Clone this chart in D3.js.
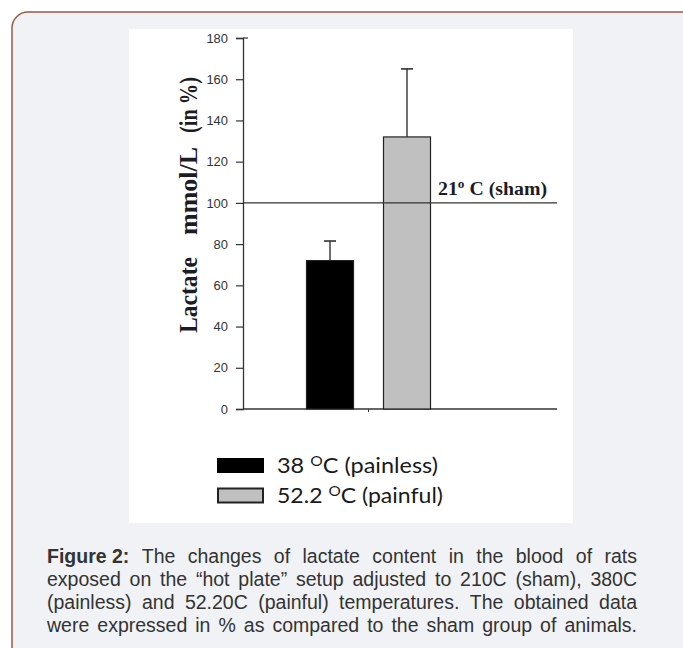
<!DOCTYPE html>
<html lang="en">
<head>
    <meta charset="UTF-8">
    <title>Lactate content – Figure 2</title>
    <script src="https://cdnjs.cloudflare.com/ajax/libs/d3/7.8.5/d3.min.js"></script>
    <style>
        body { margin: 0; background: #fff; }
        svg { display: block; }
        .tick-label { font-family: "Liberation Sans Narrow", "Liberation Sans", Arial, sans-serif; font-size: 13px; fill: #333; }
        .serif-bold { font-family: "Liberation Serif", "Times New Roman", serif; font-weight: bold; fill: #1c1c24; }
        .legend-text { font-family: Lato, "Open Sans", sans-serif; font-size: 21px; fill: #1a1a1a; }
        .caption { font-family: "Liberation Sans", Arial, sans-serif; font-size: 19.5px; fill: #333; }
    </style>
</head>
<body>
<div id="chart"></div>
<script>
    // Data
    const groups = ["38", "52.2"];
    const groupLabels = ["(painless)", "(painful)"];
    const lactate = [72, 132];          // % of sham
    const lactateErr = [9.5, 33];       // upper error bar
    const barFills = ["#000000", "#c0c0c0"];
    const yTicks = [0, 20, 40, 60, 80, 100, 120, 140, 160, 180];
    const shamLevel = 100;
    const captionLines = [
        ["Figure 2:", "The changes of lactate content in the blood of rats"],
        ["", "exposed on the \u201chot plate\u201d setup adjusted to 210C (sham), 380C"],
        ["", "(painless) and 52.20C (painful) temperatures. The obtained data"],
        ["", "were expressed in % as compared to the sham group of animals."]
    ];

    const W = 683, H = 648;
    const svg = d3.select("#chart").append("svg")
        .attr("width", W)
        .attr("height", H);

    // card + white figure area
    svg.append("rect")
        .attr("x", 12).attr("y", 12)
        .attr("width", 700).attr("height", 650)
        .attr("rx", 16)
        .attr("fill", "#f0f2f5")
        .attr("stroke", "#9a5a48")
        .attr("stroke-width", 1.5);

    svg.append("rect")
        .attr("x", 129).attr("y", 29)
        .attr("width", 444).attr("height", 494)
        .attr("fill", "#fff");

    // scales
    const axisX0 = 243, axisX1 = 557;
    const y = d3.scaleLinear().domain([0, 180]).range([409, 38]);
    const x = d3.scalePoint().domain(groups).range([330, 407]);
    const barW = 47;

    // y axis
    const yAxis = svg.append("g")
        .attr("transform", `translate(${axisX0},0)`)
        .call(d3.axisLeft(y).tickValues(yTicks).tickSize(7).tickPadding(8));
    yAxis.attr("font-size", null).attr("font-family", null);
    yAxis.select(".domain").attr("stroke", "#333").attr("stroke-width", 1.3);
    yAxis.selectAll(".tick line").attr("stroke", "#333").attr("stroke-width", 1.2);
    yAxis.selectAll(".tick text").attr("class", "tick-label").attr("fill", null)
        .attr("textLength", d => String(d).length * 7.2)
        .attr("lengthAdjust", "spacingAndGlyphs");
    // top tick extends past the axis
    yAxis.append("line")
        .attr("x1", 0).attr("x2", 5)
        .attr("y1", y(180)).attr("y2", y(180))
        .attr("stroke", "#333").attr("stroke-width", 1.2);

    // x axis line + middle tick
    svg.append("line")
        .attr("x1", axisX0).attr("x2", axisX1)
        .attr("y1", y(0)).attr("y2", y(0))
        .attr("stroke", "#333").attr("stroke-width", 1.3);
    const midX = (x(groups[0]) + x(groups[1])) / 2;
    svg.append("line")
        .attr("x1", midX).attr("x2", midX)
        .attr("y1", y(0)).attr("y2", y(0) + 3)
        .attr("stroke", "#333").attr("stroke-width", 1);

    // bars
    svg.selectAll(".bar")
        .data(groups)
        .join("rect")
        .attr("class", "bar")
        .attr("x", d => x(d) - barW / 2)
        .attr("y", (d, i) => y(lactate[i]))
        .attr("width", barW)
        .attr("height", (d, i) => y(0) - y(lactate[i]))
        .attr("fill", (d, i) => barFills[i])
        .attr("stroke", "#222")
        .attr("stroke-width", 1.2);

    // error bars (upper only)
    groups.forEach((g, i) => {
        const cx = x(g);
        svg.append("line")
            .attr("x1", cx).attr("x2", cx)
            .attr("y1", y(lactate[i])).attr("y2", y(lactate[i] + lactateErr[i]))
            .attr("stroke", "#222").attr("stroke-width", 1.3);
        svg.append("line")
            .attr("x1", cx - 6).attr("x2", cx + 6)
            .attr("y1", y(lactate[i] + lactateErr[i])).attr("y2", y(lactate[i] + lactateErr[i]))
            .attr("stroke", "#222").attr("stroke-width", 1.5);
    });

    // sham reference line, drawn over the bar
    svg.append("line")
        .attr("x1", axisX0).attr("x2", axisX1)
        .attr("y1", y(shamLevel)).attr("y2", y(shamLevel))
        .attr("stroke", "#333").attr("stroke-width", 1.2);

    const sham = svg.append("text")
        .attr("class", "serif-bold")
        .attr("x", 438).attr("y", 195)
        .attr("font-size", 18)
        .attr("textLength", 109)
        .attr("lengthAdjust", "spacingAndGlyphs");
    sham.append("tspan").text("21");
    sham.append("tspan").attr("font-size", 12).attr("dy", -7).text("o");
    sham.append("tspan").attr("dy", 7).text(" C (sham)");

    // rotated y label, placed word by word
    const yLabelParts = [
        { t: "Lactate", c: 295, len: 76 },
        { t: "mmol/L", c: 191, len: 88 },
        { t: "(in %)", c: 105, len: 56 }
    ];
    yLabelParts.forEach(p => {
        svg.append("text")
            .attr("class", "serif-bold")
            .attr("font-size", 25)
            .attr("text-anchor", "middle")
            .attr("transform", `translate(197,${p.c}) rotate(-90)`)
            .attr("textLength", p.len)
            .attr("lengthAdjust", "spacingAndGlyphs")
            .text(p.t);
    });

    // legend
    const legend = svg.append("g").attr("transform", "translate(217,458)");
    groups.forEach((g, i) => {
        const row = legend.append("g").attr("transform", `translate(0,${i * 29.5})`);
        row.append("rect")
            .attr("x", i ? 1 : 0).attr("y", i ? 1 : 0)
            .attr("width", i ? 45 : 47).attr("height", i ? 14 : 15)
            .attr("fill", barFills[i])
            .attr("stroke", i ? "#222" : "none")
            .attr("stroke-width", 2);
        const t = row.append("text")
            .attr("class", "legend-text")
            .attr("x", 60).attr("y", 15)
            .attr("textLength", i ? 166 : 161)
            .attr("lengthAdjust", "spacingAndGlyphs");
        t.append("tspan").text(g + " ");
        t.append("tspan").attr("font-size", 14).attr("dy", -7).text("O");
        t.append("tspan").attr("dy", 7).text("C " + groupLabels[i]);
    });

    // caption, justified between x=47 and x=637
    const capLeft = 47, capRight = 637;
    captionLines.forEach((line, li) => {
        const baseY = 563 + li * 23;
        const words = [];
        if (line[0]) words.push({ w: line[0], bold: true });
        line[1].split(" ").forEach(w => words.push({ w, bold: false }));
        const nodes = words.map(d => svg.append("text")
            .attr("class", "caption")
            .attr("font-weight", d.bold ? "bold" : null)
            .attr("y", baseY)
            .text(d.w));
        const widths = nodes.map(n => n.node().getComputedTextLength());
        const total = d3.sum(widths);
        let gap = (capRight - capLeft - total) / (words.length - 1);
        let scale = 1;
        if (gap < 4) {
            scale = (capRight - capLeft - 4 * (words.length - 1)) / total;
            gap = 4;
        }
        let cx = capLeft;
        nodes.forEach((n, k) => {
            const w = widths[k] * scale;
            n.attr("x", cx);
            if (scale !== 1) n.attr("textLength", w).attr("lengthAdjust", "spacingAndGlyphs");
            cx += w + gap;
        });
    });
</script>
</body>
</html>
